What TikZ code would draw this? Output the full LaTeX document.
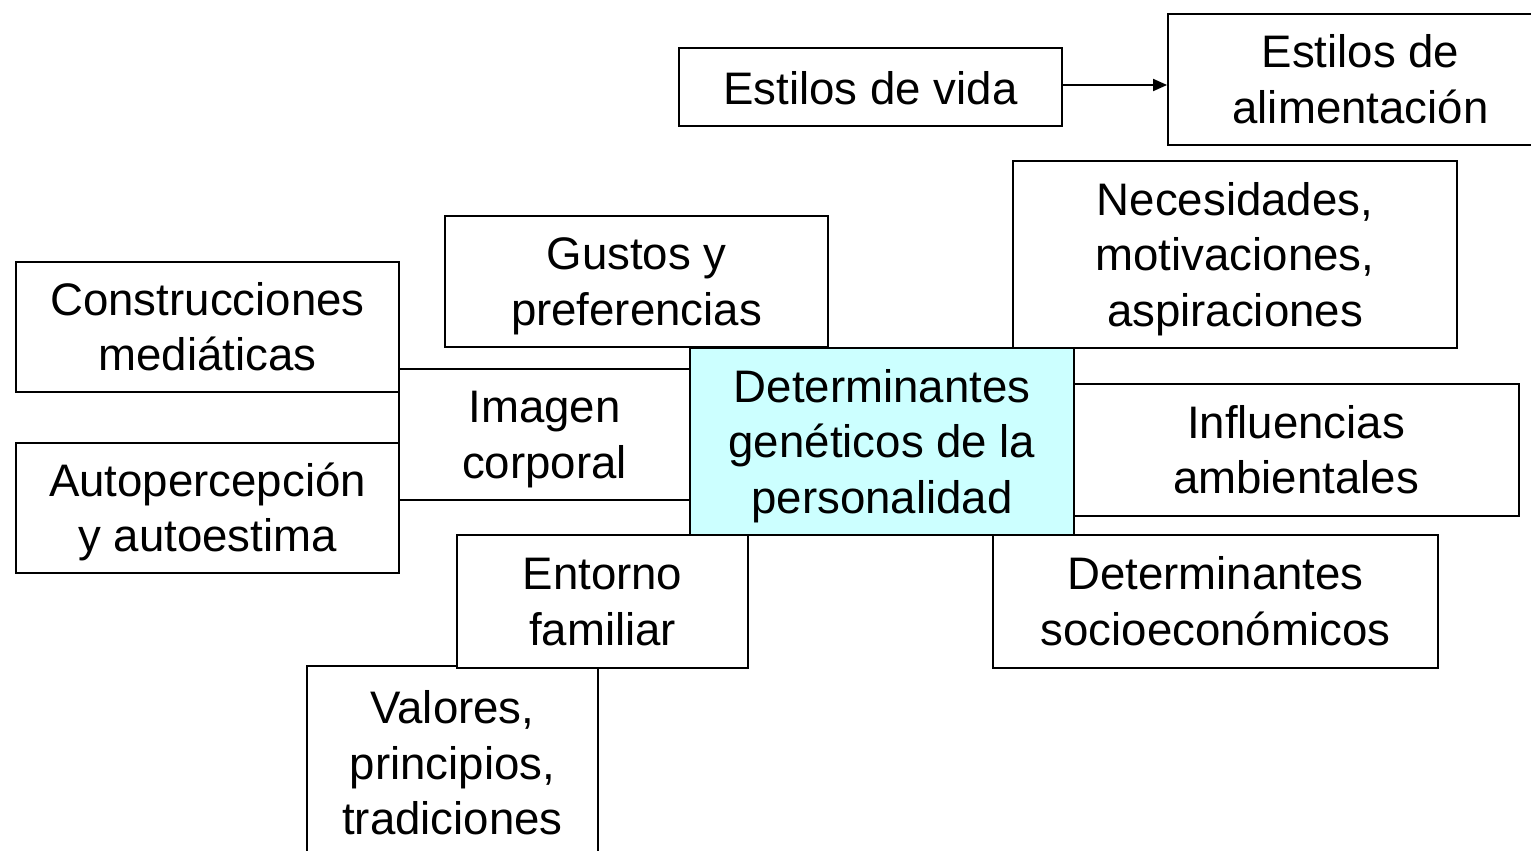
\documentclass[tikz,border=0pt]{standalone}
\usepackage{fontspec}
\setmainfont{Liberation Sans}
\usetikzlibrary{arrows.meta}
\definecolor{lightcyan}{HTML}{CCFFFF}
\newcommand\strutT{\rule{0pt}{42pt}}
\newcommand\strutTT{\rule{0pt}{44pt}}
\newcommand\strutB{\rule[-10pt]{0pt}{10pt}}
\tikzset{
  box/.style={draw=black, line width=1.8pt, rectangle, align=center, inner sep=0pt,
    fill=white, font=\fontsize{45.6}{55.5}\selectfont},
  conn/.style={line width=1.8pt, -{Triangle[length=14pt,width=12pt]}}
}
\begin{document}
\begin{tikzpicture}[x=1pt,y=-1pt]
\useasboundingbox (0,0) rectangle (1531,851);
\node[box, minimum width=383pt, minimum height=78pt] (vida) at (870.5,87) {\strutTT Estilos de vida\strutB};
\node[box, minimum width=385pt, minimum height=131pt] (alim) at (1360.5,79.5) {\strutT Estilos de\\alimentación\strutB};
\node[box, minimum width=383pt, minimum height=131pt] (gustos) at (636.5,281.5) {\strutT Gustos y\\preferencias\strutB};
\node[box, minimum width=444pt, minimum height=187pt] (neces) at (1235,254.5) {\strutT Necesidades,\\motivaciones,\\aspiraciones\strutB};
\node[box, minimum width=383pt, minimum height=130pt] (constr) at (207.5,327) {\strutT Construcciones\\mediáticas\strutB};
\node[box, minimum width=383pt, minimum height=130pt] (auto) at (207.5,508) {\strutT Autopercepción\\y autoestima\strutB};
\node[box, minimum width=291pt, minimum height=131pt] (imagen) at (544.5,434.5) {\strutT Imagen\\corporal\strutB};
\node[box, minimum width=446pt, minimum height=132pt] (influ) at (1296,450) {\strutT Influencias\\ambientales\strutB};
\node[box, minimum width=291pt, minimum height=194pt] (valores) at (452.5,763) {\strutT Valores,\\principios,\\tradiciones\strutB};
\node[box, minimum width=291pt, minimum height=133pt] (entorno) at (602.5,601.5) {\strutT Entorno\\familiar\strutB};
\node[box, minimum width=445pt, minimum height=133pt] (socio) at (1215.5,601.5) {\strutT Determinantes\\socioeconómicos\strutB};
\node[box, fill=lightcyan, minimum width=384pt, minimum height=187pt] (center) at (882,441.5) {\strutT Determinantes\\genéticos de la\\personalidad\strutB};
\draw[conn] ([yshift=2pt]vida.east) -- ([yshift=2pt]alim.west |- vida.east);
\end{tikzpicture}
\end{document}
